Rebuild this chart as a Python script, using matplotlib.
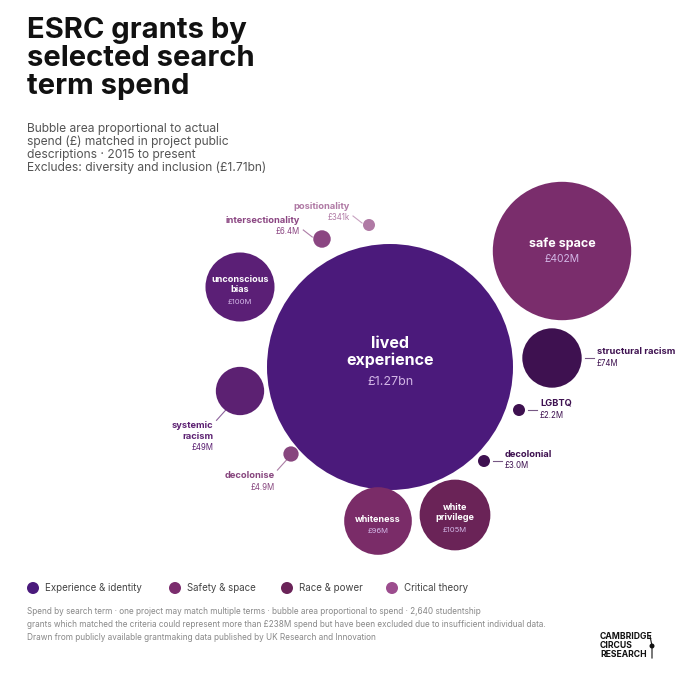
import numpy as np
import matplotlib.pyplot as plt
from matplotlib.patches import Circle

plt.rcParams['font.family'] = ['Inter', 'DejaVu Sans']

# data: spend in £M per search term
terms = ["lived experience", "safe space", "white privilege", "unconscious bias",
         "whiteness", "structural racism", "systemic racism", "intersectionality",
         "decolonise", "decolonial", "LGBTQ", "positionality"]
spend = [1270, 402, 105, 100, 96, 74, 49, 6.4, 4.9, 3.0, 2.2, 0.341]

categories = ["Experience & identity", "Safety & space", "Race & power", "Critical theory"]
cat_colors = ["#4a1a7c", "#7b2d6e", "#6a2358", "#9c4d8e"]

# layout (pixel space, 680x680 canvas): bubble centre, fill, label mode
layout = {
    "lived experience":  ((390, 367), "#4b1a7b", "in"),
    "safe space":        ((562, 251), "#7a2d6c", "in"),
    "white privilege":   ((455, 515), "#6a2357", "in"),
    "unconscious bias":  ((240, 287), "#5b1f76", "in"),
    "whiteness":         ((378, 521), "#7a2c68", "in"),
    "structural racism": ((552, 358), "#3e1150", "right"),
    "systemic racism":   ((240, 391), "#5c2172", "lowleft"),
    "intersectionality": ((322, 239), "#8b4682", "upleft"),
    "decolonise":        ((291, 454), "#87467e", "lowleft"),
    "decolonial":        ((484, 461), "#3e1150", "right"),
    "LGBTQ":             ((519, 410), "#3e1150", "right"),
    "positionality":     ((369, 225), "#b07aa5", "upleft"),
}
inside_names = {"lived experience": "lived\nexperience", "unconscious bias": "unconscious\nbias",
                "white privilege": "white\nprivilege"}
outside_names = {"systemic racism": "systemic\nracism"}


def fmt(v):
    if v >= 1000:
        return f"£{v/1000:.2f}bn"
    if v < 1:
        return f"£{v*1000:.0f}k"
    if v < 10:
        return f"£{v:.1f}M"
    return f"£{v:.0f}M"


k = 123 / np.sqrt(max(spend))

fig = plt.figure(figsize=(6.8, 6.8), dpi=100)
ax = fig.add_axes([0, 0, 1, 1])
ax.set_xlim(0, 680)
ax.set_ylim(680, 0)
ax.set_aspect('equal')
ax.axis('off')

for term, v in zip(terms, spend):
    (cx, cy), col, mode = layout[term]
    r = max(k * np.sqrt(v), 6)
    ax.add_patch(Circle((cx, cy), r, color=col, lw=0))
    if mode == "in":
        name = inside_names.get(term, term)
        nl = name.count("\n") + 1
        if r > 100:
            fs, vfs, lh, sh = 11.5, 9, 17, -14
        elif r > 60:
            fs, vfs, lh, sh = 9, 7.5, 13, -7
        else:
            fs, vfs, lh, sh = 6.5, 5.5, 10.5, -1
        y0 = cy - (nl * lh) / 2 + sh
        ax.text(cx, y0, name, ha='center', va='top', color='white', fontsize=fs,
                fontweight='bold', linespacing=1.1)
        ax.text(cx, y0 + nl * lh + (6 if r > 100 else 3), fmt(v), ha='center', va='top',
                color='#d2b6e6', fontsize=vfs)
    else:
        name = outside_names.get(term, term)
        tcol = col
        if mode == "right":
            x0 = cx + r + 3
            ax.plot([x0, x0 + 9], [cy, cy], color=col, lw=0.8, alpha=0.7)
            tx, ty, ha = x0 + 12, cy - 11, 'left'
        elif mode == "lowleft":
            ax.plot([cx - r * 0.6, cx - r * 0.6 - 9], [cy + r * 0.8, cy + r * 0.8 + 10],
                    color=col, lw=0.8, alpha=0.7)
            tx, ty, ha = cx - r * 0.6 - 12, cy + r * 0.8 + 11, 'right'
        else:
            ax.plot([cx - r - 1, cx - r - 10], [cy - 2, cy - 9], color=col, lw=0.8, alpha=0.7)
            tx, ty, ha = cx - r - 13, cy - 23, 'right'
        ax.text(tx, ty, name, ha=ha, va='top', color=tcol, fontsize=6.7,
                fontweight='bold', linespacing=1.2)
        nl = name.count("\n") + 1
        ax.text(tx, ty + nl * 10 + 1.5, fmt(v), ha=ha, va='top', color=tcol, fontsize=5.7)

# title and subtitle
ax.text(27, 17, "ESRC grants by\nselected search\nterm spend", ha='left', va='top',
        fontsize=21, fontweight='bold', color='#111111', linespacing=1.05)
ax.text(27, 123, "Bubble area proportional to actual\nspend (£) matched in project public\n"
        "descriptions · 2015 to present\nExcludes: diversity and inclusion (£1.71bn)",
        ha='left', va='top', fontsize=8.7, color='#555555', linespacing=1.08)

# legend
leg_x = [33, 175, 287, 392]
for x, c, lab in zip(leg_x, cat_colors, categories):
    ax.add_patch(Circle((x, 588), 6, color=c, lw=0))
    ax.text(x + 12, 588, lab, ha='left', va='center', fontsize=7, color='#444444')

# footer
ax.text(27, 607, "Spend by search term · one project may match multiple terms · bubble area "
        "proportional to spend · 2,640 studentship\ngrants which matched the criteria could "
        "represent more than £238M spend but have been excluded due to insufficient individual data.\n"
        "Drawn from publicly available grantmaking data published by UK Research and Innovation",
        ha='left', va='top', fontsize=5.9, color='#888888', linespacing=1.55)

# logo
ax.text(600, 632, "CAMBRIDGE\nCIRCUS\nRESEARCH", ha='left', va='top', fontsize=6.2,
        fontweight='bold', color='#111111', linespacing=1.0)
ax.add_patch(Circle((652, 646), 2.5, color='#111111', lw=0))
ax.plot([650, 652, 652], [636, 646, 658], color='#111111', lw=0.8)

fig.savefig("out.png", dpi=100, facecolor='white')
